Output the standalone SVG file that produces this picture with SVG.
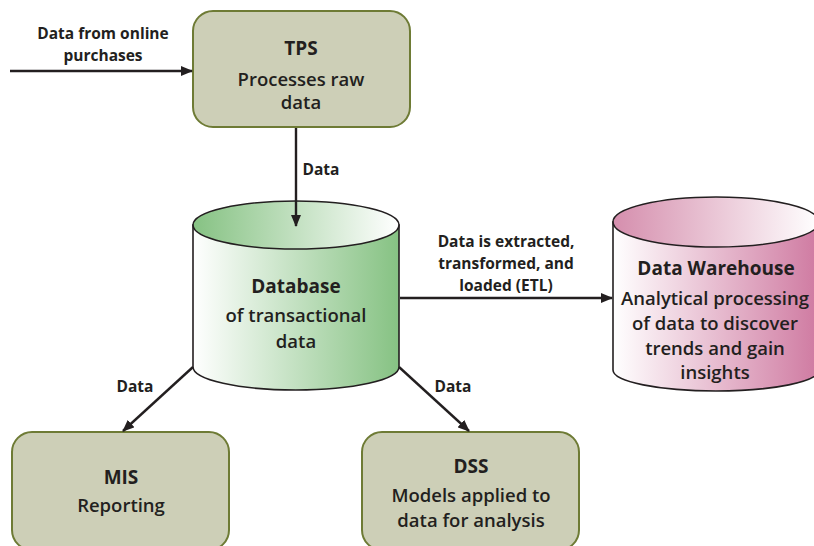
<svg xmlns="http://www.w3.org/2000/svg" width="814" height="546" viewBox="0 0 814 546">
  <defs>
    <style>
      .box { fill: #cdcfb7; stroke: #6e7b35; stroke-width: 2; }
      .cyl { stroke: #231f20; stroke-width: 1.6; }
      .wire { stroke: #231f20; stroke-width: 2.4; fill: none; }
      text { font-family: "Open Sans", "Liberation Sans", sans-serif; fill: #231f20; text-anchor: middle; }
      .title { font-size: 19px; font-weight: 700; }
      .body { font-size: 18.5px; font-weight: 600; }
      .lbl { font-size: 15.5px; font-weight: 700; }
    </style>
    <marker id="arrow" viewBox="0 0 12 10" refX="11" refY="5" markerWidth="12" markerHeight="10" markerUnits="userSpaceOnUse" orient="auto">
      <path d="M0,0 L12,5 L0,10 Z" fill="#231f20"/>
    </marker>
    <linearGradient id="greenBody" x1="0" y1="0" x2="1" y2="0">
      <stop offset="0" stop-color="#ffffff"/>
      <stop offset="1" stop-color="#86c283"/>
    </linearGradient>
    <linearGradient id="greenTop" x1="0" y1="0" x2="1" y2="0">
      <stop offset="0" stop-color="#86c283"/>
      <stop offset="1" stop-color="#ffffff"/>
    </linearGradient>
    <linearGradient id="pinkBody" x1="0" y1="0" x2="1" y2="0">
      <stop offset="0" stop-color="#ffffff"/>
      <stop offset="1" stop-color="#cf7aa1"/>
    </linearGradient>
    <linearGradient id="pinkTop" x1="0" y1="0" x2="1" y2="0">
      <stop offset="0" stop-color="#d58ead"/>
      <stop offset="1" stop-color="#ffffff"/>
    </linearGradient>
  </defs>

  <rect width="814" height="546" fill="#ffffff"/>

  <!-- TPS -->
  <g id="tps">
    <rect class="box" x="193" y="11" width="217" height="116" rx="20" ry="20"/>
    <text class="title" x="301" y="55">TPS</text>
    <text class="body" x="301" y="86">Processes raw</text>
    <text class="body" x="301" y="109">data</text>
  </g>

  <!-- Database cylinder -->
  <g id="database">
    <path class="cyl" fill="url(#greenBody)" d="M193,225 L193,367 A103,23 0 0 0 399,367 L399,225 Z"/>
    <ellipse class="cyl" fill="url(#greenTop)" cx="296" cy="225" rx="103" ry="24"/>
    <text class="title" x="296" y="293">Database</text>
    <text class="body" x="296" y="322">of transactional</text>
    <text class="body" x="296" y="348">data</text>
  </g>

  <!-- Data warehouse cylinder -->
  <g id="warehouse">
    <path class="cyl" fill="url(#pinkBody)" d="M613,222 L613,370 A103,21 0 0 0 819,370 L819,222 Z"/>
    <ellipse class="cyl" fill="url(#pinkTop)" cx="716" cy="222" rx="103" ry="25"/>
    <text class="title" x="716" y="275">Data Warehouse</text>
    <text class="body" x="715" y="305">Analytical processing</text>
    <text class="body" x="715" y="330">of data to discover</text>
    <text class="body" x="715" y="355">trends and gain</text>
    <text class="body" x="715" y="379">insights</text>
  </g>

  <!-- MIS -->
  <g id="mis">
    <rect class="box" x="12" y="432" width="217" height="118" rx="20" ry="20"/>
    <text class="title" x="121" y="484">MIS</text>
    <text class="body" x="121" y="512">Reporting</text>
  </g>

  <!-- DSS -->
  <g id="dss">
    <rect class="box" x="362" y="432" width="217" height="118" rx="20" ry="20"/>
    <text class="title" x="471" y="473">DSS</text>
    <text class="body" x="471" y="502">Models applied to</text>
    <text class="body" x="471" y="527">data for analysis</text>
  </g>

  <!-- connectors, drawn over the shapes -->
  <g id="connectors">
    <line class="wire" x1="10" y1="71" x2="192" y2="71" marker-end="url(#arrow)"/>
    <text class="lbl" x="103" y="39">Data from online</text>
    <text class="lbl" x="103" y="61">purchases</text>

    <line class="wire" x1="296" y1="128" x2="296" y2="226" marker-end="url(#arrow)"/>
    <text class="lbl" x="321" y="175">Data</text>

    <line class="wire" x1="400" y1="298" x2="612" y2="298" marker-end="url(#arrow)"/>
    <text class="lbl" x="506" y="247">Data is extracted,</text>
    <text class="lbl" x="506" y="269">transformed, and</text>
    <text class="lbl" x="506" y="291">loaded (ETL)</text>

    <line class="wire" x1="193" y1="367" x2="123" y2="431" marker-end="url(#arrow)"/>
    <text class="lbl" x="135" y="392">Data</text>

    <line class="wire" x1="399" y1="367" x2="469" y2="431" marker-end="url(#arrow)"/>
    <text class="lbl" x="453" y="392">Data</text>
  </g>
</svg>
